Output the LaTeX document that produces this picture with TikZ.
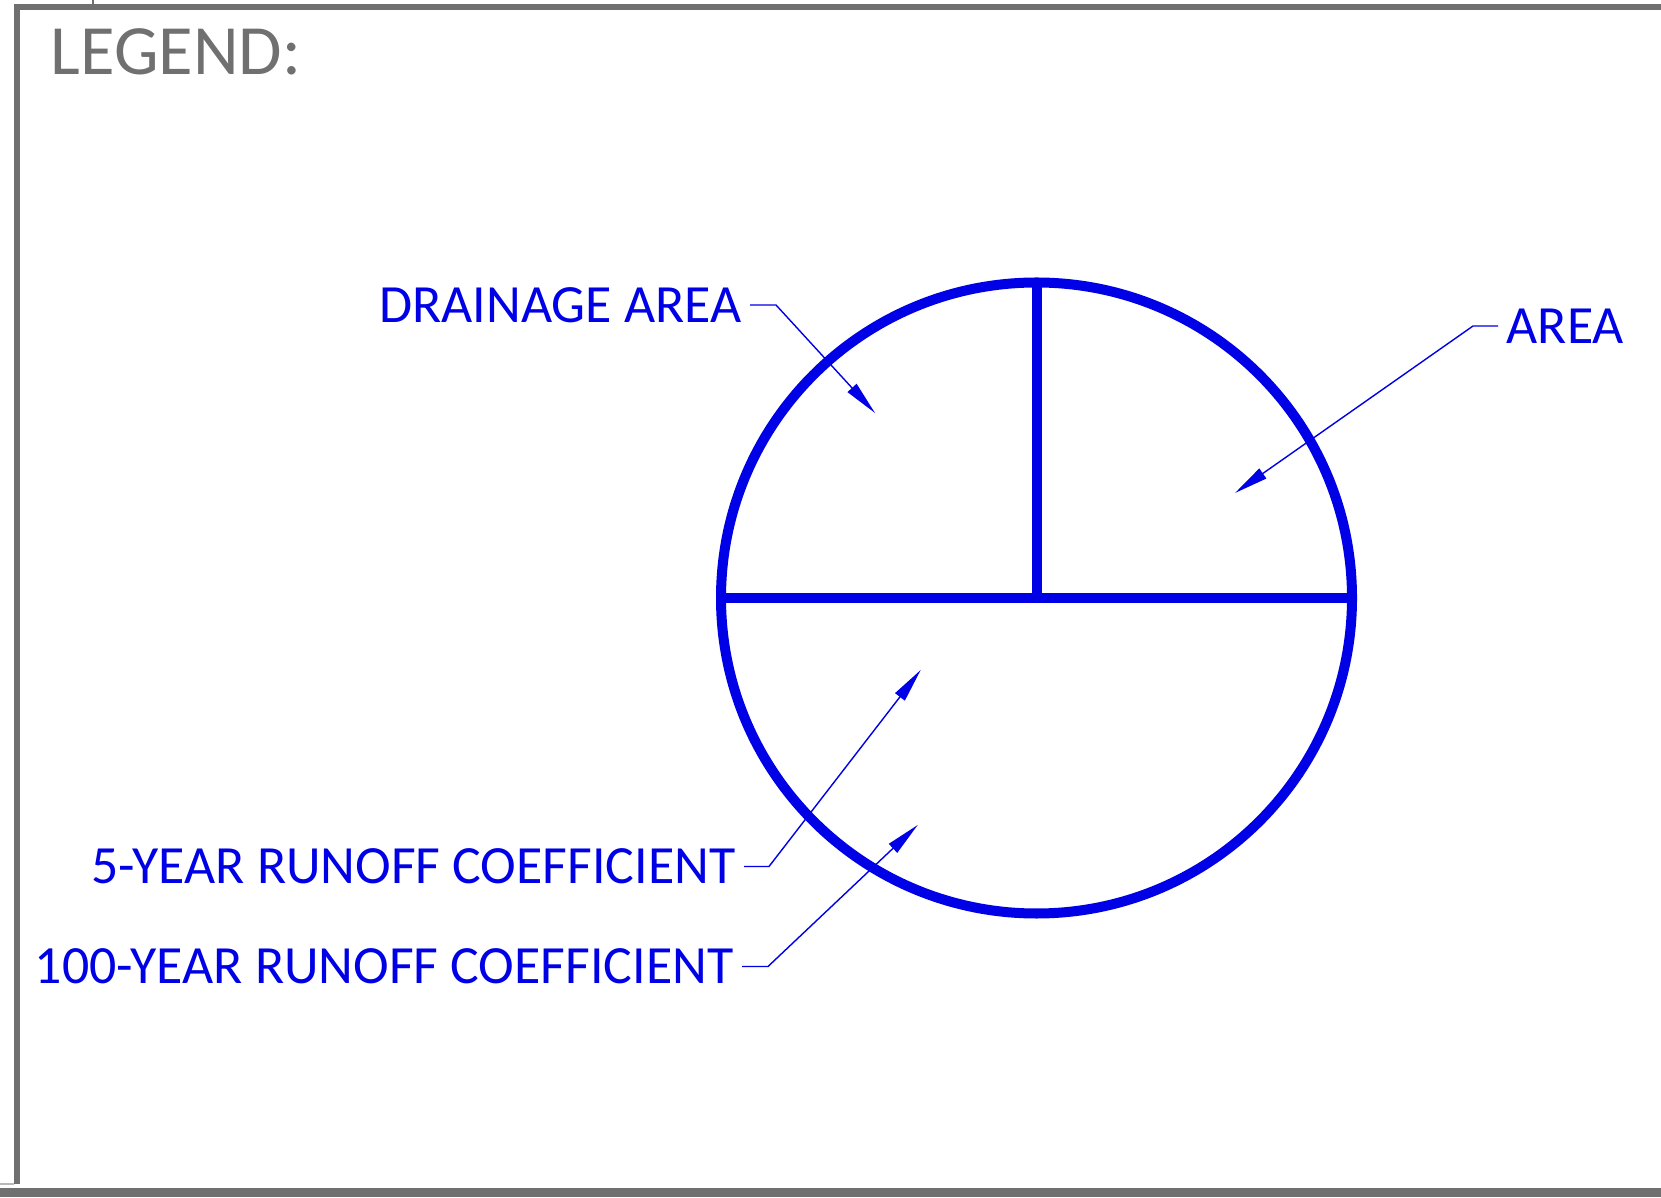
\documentclass[tikz,border=0pt]{standalone}
\usepackage{fontspec}
\setmainfont{Carlito}
\usetikzlibrary{arrows.meta}
\definecolor{legblue}{RGB}{0,0,230}
\definecolor{framegray}{RGB}{112,112,112}
\begin{document}
\begin{tikzpicture}[x=0.01cm,y=-0.01cm,
  frame/.style={draw=framegray,line width=0.06cm},
  symbol/.style={draw=legblue,line width=0.1cm},
  leader/.style={draw=legblue,line width=0.4pt,-{Triangle[length=0.34cm,width=0.12cm]}},
  lbl/.style={text=legblue,font=\fontsize{15.3}{18}\selectfont,inner xsep=0.08cm,inner ysep=0pt}]
  \useasboundingbox (0,0) rectangle (1661,1198);
  % sheet border
  \draw[frame] (14,7) -- (1661,7);
  \draw[frame] (17,7) -- (17,1184);
  \draw[frame,line width=0.09cm] (0,1192) -- (1661,1192);
  \draw[framegray,line width=0.3pt] (93,0) -- (93,4);
  \draw[framegray!50,line width=0.3pt] (0,1184) -- (14,1184);
  \node[anchor=west,text=framegray,font=\fontsize{20.1}{22}\selectfont,inner sep=0pt] (title) at (50,51.5) {LEGEND:};
  % symbol
  \coordinate (c) at (1036.5,598);
  \draw[symbol] (c) circle (315.5);
  \draw[symbol] (c) ++(-315.5,0) -- ++(631,0);
  \draw[symbol] (c) -- ++(0,-315);
  % labels
  \node[lbl,anchor=east] (drain) at (750,305) {DRAINAGE AREA};
  \node[lbl,anchor=west] (area) at (1498,326) {AREA};
  \node[lbl,anchor=east] (five) at (744,866.5) {5-YEAR RUNOFF COEFFICIENT};
  \node[lbl,anchor=east] (hundred) at (742,966.5) {100-YEAR RUNOFF COEFFICIENT};
  \coordinate (tipdrain) at (875,413);
  \coordinate (tiparea) at (1235,493);
  \coordinate (tipfive) at (920.7,670);
  \coordinate (tiphundred) at (917.7,825);
  % leaders
  \draw[leader] (drain.east) -- ++(26,0) -- (tipdrain);
  \draw[leader] (area.west) -- ++(-25,0) -- (tiparea);
  \draw[leader] (five.east) -- ++(25,0) -- (tipfive);
  \draw[leader] (hundred.east) -- ++(26,0) -- (tiphundred);
\end{tikzpicture}
\end{document}
